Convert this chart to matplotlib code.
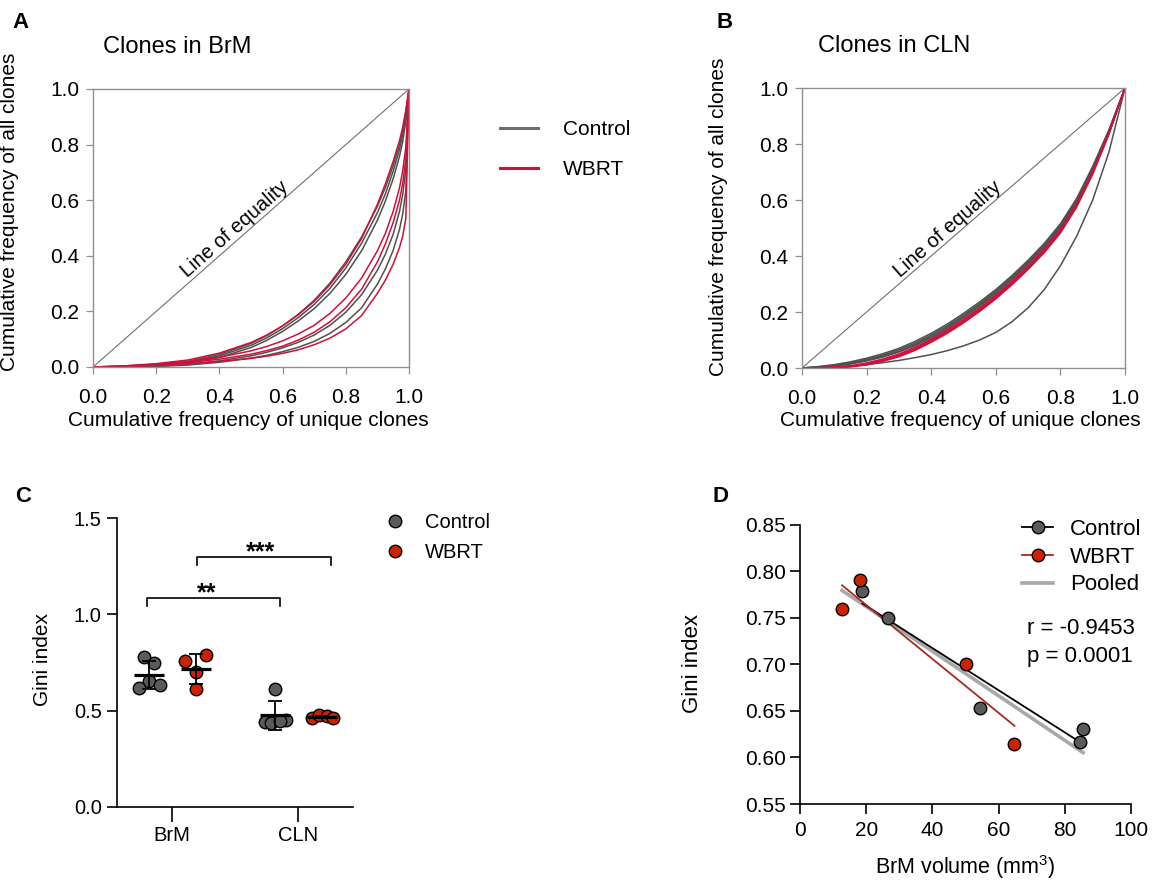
import numpy as np
import matplotlib
matplotlib.use('Agg')
import matplotlib.pyplot as plt
from matplotlib.lines import Line2D

plt.rcParams['font.family'] = ['Liberation Sans', 'DejaVu Sans']
plt.rcParams['mathtext.fontset'] = 'custom'
plt.rcParams['mathtext.rm'] = 'Liberation Sans'
plt.rcParams['mathtext.default'] = 'regular'

# ---- panel A: Lorenz curves, clones in BrM ----
xA = [0, 0.1, 0.2, 0.3, 0.4, 0.5, 0.55, 0.6, 0.65, 0.7, 0.75, 0.8, 0.85, 0.9, 0.925, 0.95, 0.97, 0.98, 0.99, 1.0]
brm_control = [
    [0, .002, .008, .020, .045, .085, .113, .148, .190, .240, .302, .378, .468, .578, .645, .725, .800, .850, .915, 1.0],
    [0, .001, .006, .017, .040, .078, .105, .138, .178, .225, .283, .356, .445, .555, .622, .705, .783, .835, .905, 1.0],
    [0, .001, .005, .014, .034, .070, .096, .128, .166, .210, .265, .333, .418, .528, .596, .678, .758, .810, .885, 1.0],
    [0, .0005, .003, .010, .022, .040, .053, .069, .089, .115, .150, .197, .260, .348, .405, .478, .560, .620, .710, 1.0],
    [0, .000, .002, .007, .017, .032, .042, .055, .071, .092, .121, .160, .213, .298, .352, .420, .495, .550, .635, 1.0],
]
brm_wbrt = [
    [0, .004, .012, .025, .050, .088, .115, .148, .188, .236, .296, .370, .462, .585, .658, .740, .815, .862, .925, 1.0],
    [0, .004, .010, .020, .035, .058, .074, .094, .119, .150, .193, .248, .320, .418, .480, .560, .645, .705, .790, 1.0],
    [0, .003, .008, .016, .028, .046, .059, .075, .097, .125, .163, .213, .280, .378, .442, .520, .600, .660, .750, 1.0],
    [0, .002, .006, .012, .020, .031, .039, .049, .062, .080, .104, .137, .185, .265, .312, .370, .430, .470, .535, 1.0],
]

# ---- panel B: Lorenz curves, clones in CLN ----
xB = [0, 0.05, 0.1, 0.15, 0.2, 0.25, 0.3, 0.35, 0.4, 0.45, 0.5, 0.55, 0.6, 0.65, 0.7, 0.75, 0.8, 0.85, 0.9, 0.95, 1.0]
cln_control = [
    [0, .005, .012, .022, .035, .051, .070, .095, .124, .157, .195, .236, .280, .330, .385, .445, .515, .605, .720, .850, 1.0],
    [0, .004, .010, .019, .031, .046, .065, .089, .118, .151, .189, .230, .275, .325, .380, .440, .510, .600, .715, .847, 1.0],
    [0, .003, .008, .016, .028, .042, .060, .084, .113, .146, .184, .225, .270, .320, .375, .435, .505, .595, .710, .845, 1.0],
    [0, .002, .007, .014, .025, .039, .057, .080, .108, .141, .179, .220, .265, .315, .370, .430, .500, .590, .705, .842, 1.0],
    [0, .001, .003, .007, .012, .019, .027, .037, .048, .062, .079, .100, .127, .165, .215, .280, .365, .470, .600, .770, 1.0],
]
cln_wbrt = [
    [0, .001, .003, .008, .018, .032, .050, .074, .103, .136, .173, .214, .259, .309, .364, .424, .494, .585, .702, .840, 1.0],
    [0, .001, .002, .006, .015, .029, .046, .070, .099, .132, .169, .210, .255, .305, .360, .420, .490, .581, .699, .838, 1.0],
    [0, .000, .002, .005, .013, .026, .043, .066, .095, .128, .165, .206, .251, .301, .356, .416, .486, .578, .696, .836, 1.0],
    [0, .000, .001, .004, .011, .024, .040, .063, .092, .124, .161, .202, .247, .297, .352, .412, .482, .574, .692, .834, 1.0],
]

# ---- panel C: Gini index ----
sites = ['BrM', 'CLN']
gini_ctrl_brm = [0.78, 0.75, 0.654, 0.632, 0.617]
gini_wbrt_brm = [0.791, 0.76, 0.701, 0.615]
gini_ctrl_cln = [0.61, 0.44, 0.45, 0.435, 0.445]
gini_wbrt_cln = [0.462, 0.476, 0.47, 0.462]

# ---- panel D: Gini vs BrM volume ----
vol_ctrl = [18.85, 26.5, 54.3, 84.7, 85.5]
gini_ctrl = [0.7794, 0.7496, 0.6532, 0.6167, 0.631]
vol_wbrt = [12.7, 18.1, 50.2, 64.8]
gini_wbrt = [0.7593, 0.7909, 0.7005, 0.6145]
r_text = 'r = -0.9453'
p_text = 'p = 0.0001'

GRAY_LINE = '#505050'
RED_LINE = '#d0103a'
GRAY_DOT = '#5a5a5a'
RED_DOT = '#cc2200'

fig = plt.figure(figsize=(11.54, 8.81), dpi=100)
W, H = 1154, 881


def box(l, t, r, b):
    return [l / W, 1 - b / H, (r - l) / W, (b - t) / H]


def lorenz(ax, x, ctrl, wbrt, title_xy, title, ylab_xy, xlab_xy):
    ax.plot([0, 1], [0, 1], color='#707070', lw=0.8)
    for c in ctrl:
        ax.plot(x, c, color=GRAY_LINE, lw=1.1)
    for c in wbrt:
        ax.plot(x, c, color=RED_LINE, lw=1.1)
    ax.set_xlim(0, 1)
    ax.set_ylim(0, 1)
    ax.set_xticks(np.arange(0, 1.01, 0.2))
    ax.set_yticks(np.arange(0, 1.01, 0.2))
    ax.xaxis.set_major_formatter('{x:.1f}')
    ax.yaxis.set_major_formatter('{x:.1f}')
    for s in ax.spines.values():
        s.set_color('#909090')
        s.set_linewidth(1.0)
    ax.tick_params(axis='both', direction='out', length=5, width=0.9,
                   color='#909090', labelsize=15)
    ax.tick_params(axis='x', pad=10)
    ax.tick_params(axis='y', pad=5)
    ax.set_xlabel('Cumulative frequency of unique clones', fontsize=15)
    ax.set_ylabel('Cumulative frequency of all clones', fontsize=15)
    ax.xaxis.set_label_coords(*xlab_xy)
    ax.yaxis.set_label_coords(*ylab_xy)
    ax.text(0.47, 0.47, 'Line of equality', rotation=41.2, rotation_mode='anchor',
            ha='center', va='bottom', fontsize=14.5, transform=ax.transData)
    fig.text(title_xy[0] / W, 1 - title_xy[1] / H, title, fontsize=17, va='center')


axA = fig.add_axes(box(93, 89, 409, 367))
lorenz(axA, xA, brm_control, brm_wbrt, (103, 47), 'Clones in BrM', (-0.235, 0.56), (0.49, -0.16))
axB = fig.add_axes(box(802, 88, 1125, 368))
lorenz(axB, xB, cln_control, cln_wbrt, (818, 46), 'Clones in CLN', (-0.23, 0.54), (0.49, -0.155))

fig.legend(handles=[Line2D([], [], color='#6e6e6e', lw=2.2),
                    Line2D([], [], color=RED_LINE, lw=2.2)],
           labels=['Control', 'WBRT'], loc='upper left', frameon=False,
           bbox_to_anchor=(500 / W, 1 - 120 / H), fontsize=15, borderpad=0,
           borderaxespad=0, handlelength=1.8, handletextpad=1.2, labelspacing=1.0)

# ---- panel C ----
axC = fig.add_axes(box(117, 518, 353, 807))
groups = [(0, -0.18, gini_ctrl_brm, GRAY_DOT, [-0.042, 0.04, 0.0, 0.082, -0.085]),
          (0, 0.19, gini_wbrt_brm, RED_DOT, [0.082, -0.087, 0.0, 0.0]),
          (1, -0.18, gini_ctrl_cln, GRAY_DOT, [0.0, -0.08, 0.087, -0.035, 0.04]),
          (1, 0.19, gini_wbrt_cln, RED_DOT, [-0.08, -0.025, 0.04, 0.087])]
for pos, shift, vals, col, jit in groups:
    vals = np.array(vals)
    cx = pos + shift
    axC.plot(cx + np.array(jit), vals, 'o', ms=9, mfc=col, mec='black', mew=1.0, zorder=3)
    m, sd = vals.mean(), vals.std(ddof=1)
    axC.errorbar(cx, m, yerr=sd, color='black', lw=1.3, capsize=5, capthick=1.3, zorder=4)
    axC.hlines(m, cx - 0.12, cx + 0.12, color='black', lw=2.3, zorder=5)

for x1, x2, yb, star, sx in [(-0.2, 0.86, 1.084, '**', 0.275), (0.2, 1.26, 1.297, '***', 0.70)]:
    axC.plot([x1, x1, x2, x2], [yb - 0.04, yb, yb, yb - 0.04], color='black', lw=1.2)
    axC.text(sx, yb - 0.012, star, ha='center', va='baseline', fontsize=18, fontweight='bold')

axC.set_xlim(-0.437, 1.437)
axC.set_ylim(0, 1.5)
axC.set_xticks([0, 1])
axC.set_xticklabels(sites)
axC.set_yticks([0, 0.5, 1.0, 1.5])
axC.yaxis.set_major_formatter('{x:.1f}')
axC.spines['top'].set_visible(False)
axC.spines['right'].set_visible(False)
for s in ['left', 'bottom']:
    axC.spines[s].set_linewidth(1.2)
axC.tick_params(axis='both', direction='out', width=1.2, labelsize=14.5)
axC.tick_params(axis='y', length=7, pad=4)
axC.tick_params(axis='x', length=11, pad=3)
axC.set_ylabel('Gini index', fontsize=15)
axC.yaxis.set_label_coords(-0.275, 0.51)
axC.legend(handles=[Line2D([], [], marker='o', ls='', ms=9, mfc=GRAY_DOT, mec='black'),
                    Line2D([], [], marker='o', ls='', ms=9, mfc=RED_DOT, mec='black')],
           labels=['Control', 'WBRT'], loc='upper left', frameon=False,
           bbox_to_anchor=(385 / W, 1 - 513 / H), bbox_transform=fig.transFigure,
           fontsize=14.5, borderpad=0, borderaxespad=0, handlelength=1.0,
           handletextpad=1.0, labelspacing=0.55)

# ---- panel D ----
axD = fig.add_axes(box(800, 525, 1131, 804))
vol_all = np.array(vol_ctrl + vol_wbrt)
gini_all = np.array(gini_ctrl + gini_wbrt)
for xs, ys, col, lw in [(vol_all, gini_all, '#a8a8a8', 2.6),
                        (np.array(vol_ctrl), np.array(gini_ctrl), 'black', 1.3),
                        (np.array(vol_wbrt), np.array(gini_wbrt), '#a82a1e', 1.3)]:
    k, b = np.polyfit(xs, ys, 1)
    xx = np.array([xs.min(), xs.max()])
    axD.plot(xx, k * xx + b, color=col, lw=lw, zorder=2)
axD.plot(vol_ctrl, gini_ctrl, 'o', ms=9, mfc=GRAY_DOT, mec='black', mew=1.0, zorder=3)
axD.plot(vol_wbrt, gini_wbrt, 'o', ms=9, mfc=RED_DOT, mec='black', mew=1.0, zorder=3)
axD.set_xlim(0, 100)
axD.set_ylim(0.55, 0.85)
axD.set_xticks(np.arange(0, 101, 20))
axD.set_yticks(np.arange(0.55, 0.851, 0.05))
axD.yaxis.set_major_formatter('{x:.2f}')
axD.spines['top'].set_visible(False)
axD.spines['right'].set_visible(False)
for s in ['left', 'bottom']:
    axD.spines[s].set_linewidth(1.2)
axD.tick_params(axis='both', direction='out', width=1.2, length=7, labelsize=15)
axD.tick_params(axis='y', pad=3)
axD.tick_params(axis='x', pad=5)
axD.set_ylabel('Gini index', fontsize=16)
axD.set_xlabel('BrM volume (mm$^3$)', fontsize=15.5)
axD.yaxis.set_label_coords(-0.293, 0.505)
axD.xaxis.set_label_coords(0.5, -0.176)
axD.text(68.6, 0.739, r_text, fontsize=16, va='center')
axD.text(68.6, 0.709, p_text, fontsize=16, va='center')
fig.legend(handles=[Line2D([], [], color='black', lw=1.3, marker='o', ms=9, mfc=GRAY_DOT, mec='black'),
                    Line2D([], [], color='#a82a1e', lw=1.3, marker='o', ms=9, mfc=RED_DOT, mec='black'),
                    Line2D([], [], color='#a8a8a8', lw=2.6)],
           labels=['Control', 'WBRT', 'Pooled'], loc='upper left', frameon=False,
           bbox_to_anchor=(1022 / W, 1 - 519 / H), fontsize=16, borderpad=0,
           borderaxespad=0, handlelength=1.4, handletextpad=0.75, labelspacing=0.3)

# panel letters
for letter, x, y in [('A', 12, 22), ('B', 717, 22), ('C', 15, 497), ('D', 713, 497)]:
    fig.text(x / W, 1 - y / H, letter, fontsize=16, fontweight='bold', va='center')

fig.savefig('out.png', dpi=100)
